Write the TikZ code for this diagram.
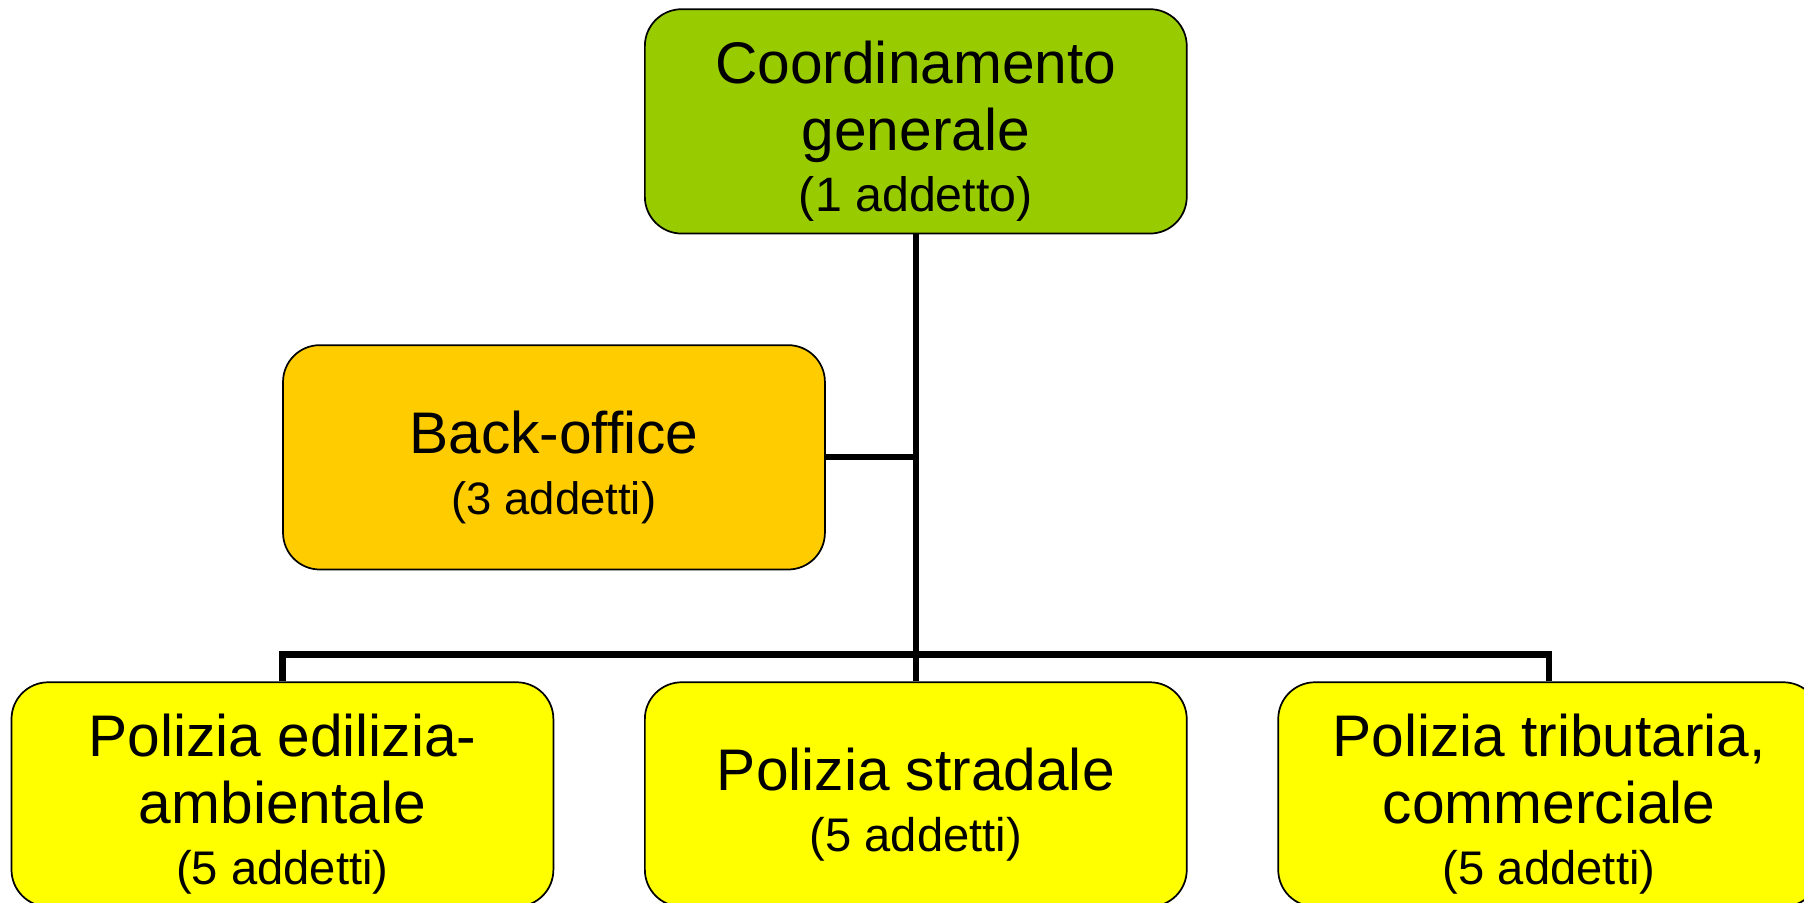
\documentclass[tikz,border=0pt]{standalone}
\usepackage{fontspec}
\setmainfont{Liberation Sans}
\definecolor{cgreen}{HTML}{99CC00}
\definecolor{corange}{HTML}{FFCC00}
\definecolor{cyellow}{HTML}{FFFF00}
\tikzset{
  orgbox/.style={draw=black, line width=1.5pt, rectangle, rounded corners=32pt,
    minimum width=471pt, minimum height=195pt, inner sep=0pt, align=center,
    font=\fontsize{51}{58}\selectfont, text=black},
  conn/.style={draw=black, line width=5.5pt}
}
\newcommand{\smalltxt}[2][41]{{\fontsize{#1}{49}\selectfont #2}}
\begin{document}
\begin{tikzpicture}[x=1pt,y=-1pt]
\useasboundingbox (0,0) rectangle (1568,784);
\clip (0,0) rectangle (1568,784);
\node[orgbox, fill=cgreen] (top) at (796,105.5) {\rule{0pt}{54pt}Coordinamento\\generale\\[-5pt]\smalltxt[42]{(1 addetto)}};
\node[orgbox, fill=corange] (back) at (481.5,397.5) {\rule{0pt}{54pt}Back-office\\[-5pt]\smalltxt[39.5]{(3 addetti)}};
\node[orgbox, fill=cyellow] (pe) at (245.5,690.5) {\rule{0pt}{54pt}Polizia edilizia-\\ambientale\\[-5pt]\smalltxt{(5 addetti)}};
\node[orgbox, fill=cyellow] (ps) at (796,690.5) {\rule{0pt}{54pt}Polizia stradale\\[-5pt]\smalltxt{(5 addetti)}};
\node[orgbox, fill=cyellow] (pt) at (1346.5,690.5) {\rule{0pt}{54pt}Polizia tributaria,\\commerciale\\[-5pt]\smalltxt{(5 addetti)}};
\coordinate (bus) at (796,569);
\draw[conn] (top.south) -- (ps.north);
\draw[conn] (back.east) -- (back.east -| top.south);
\draw[conn] (pe.north) |- (bus) -| (pt.north);
\end{tikzpicture}
\end{document}
